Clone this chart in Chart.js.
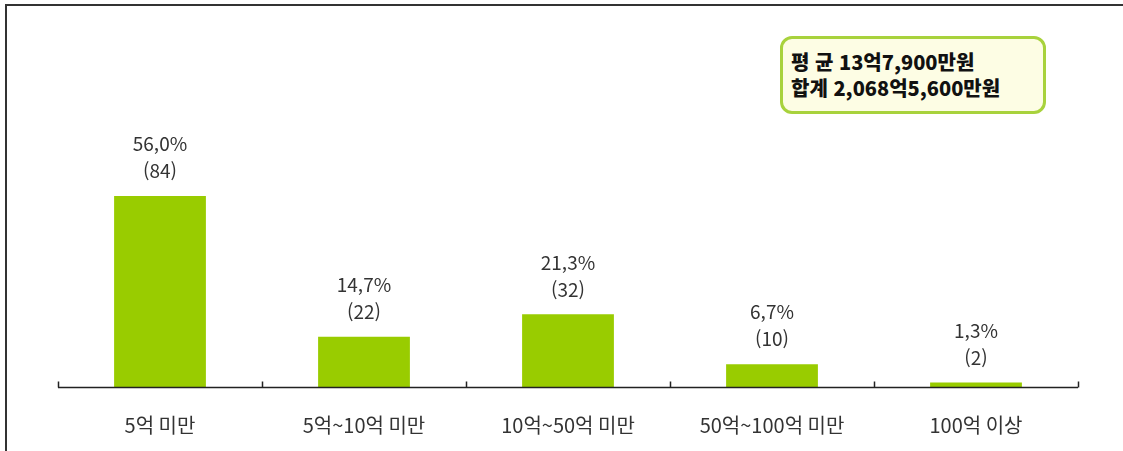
<!DOCTYPE html>
<html lang="ko">
<head>
<meta charset="utf-8">
<title>금액 구간별 분포</title>
<script src="https://cdn.jsdelivr.net/npm/chart.js@4.4.0/dist/chart.umd.min.js"></script>
<style>
  html, body { margin: 0; padding: 0; background: #fff; }
  #wrap { position: relative; width: 1123px; height: 451px; }
  #chart { position: absolute; left: 0; top: 0; }
  /* summary box, top right */
  #summary {
    position: absolute; left: 780px; top: 36px; width: 266px; height: 78px;
    box-sizing: border-box; border: 3px solid #a8d23c; border-radius: 12px;
    background: #fdfde4; padding: 10px 0 0 8px;
    font-family: "Noto Sans CJK KR", sans-serif; font-weight: 900; font-size: 20px;
    line-height: 26px; color: #111; letter-spacing: 0; white-space: nowrap;
  }
</style>
</head>
<body>
<div id="wrap">
  <canvas id="chart" width="1123" height="451"></canvas>
  <div id="summary">평 균 13억7,900만원<br>합계 2,068억5,600만원</div>
</div>
<script>
// categories and values
const categories = ['5억 미만', '5억~10억 미만', '10억~50억 미만', '50억~100억 미만', '100억 이상'];
const percents = [56.0, 14.7, 21.3, 6.7, 1.3];
const counts = [84, 22, 32, 10, 2];
const percentLabels = ['56,0%', '14,7%', '21,3%', '6,7%', '1,3%'];

const FONT = '"Noto Sans CJK KR", "Noto Sans", sans-serif';

// frame (top + left only), baseline with upward ticks, and value labels
const decorations = {
  id: 'decorations',
  afterDraw(chart) {
    const { ctx, chartArea, scales } = chart;
    const x = scales.x;
    const half = (x.getPixelForValue(1) - x.getPixelForValue(0)) / 2;
    ctx.save();
    ctx.strokeStyle = '#333';
    ctx.lineWidth = 2;
    ctx.beginPath();
    ctx.moveTo(6, chart.height);
    ctx.lineTo(6, 5);
    ctx.lineTo(chart.width, 5);
    ctx.stroke();

    const yb = Math.round(chartArea.bottom) + 0.5;
    ctx.strokeStyle = '#222';
    ctx.lineWidth = 1.5;
    ctx.beginPath();
    ctx.moveTo(chartArea.left, yb);
    ctx.lineTo(chartArea.right, yb);
    for (let i = 0; i <= categories.length; i++) {
      const px = Math.round(x.getPixelForValue(0) - half + i * half * 2) + 0.5;
      ctx.moveTo(px, yb);
      ctx.lineTo(px, yb - 6);
    }
    ctx.stroke();

    ctx.fillStyle = '#333';
    ctx.font = '19px ' + FONT;
    ctx.textAlign = 'center';
    ctx.textBaseline = 'middle';
    chart.getDatasetMeta(0).data.forEach((bar, i) => {
      ctx.fillText(percentLabels[i], bar.x, bar.y - 52);
      ctx.fillText('(' + counts[i] + ')', bar.x, bar.y - 25);
    });
    ctx.restore();
  }
};

new Chart(document.getElementById('chart'), {
  type: 'bar',
  data: {
    labels: categories,
    datasets: [{
      data: percents,
      backgroundColor: '#99cc00',
      categoryPercentage: 1,
      barPercentage: 0.45
    }]
  },
  options: {
    responsive: false,
    animation: false,
    layout: { padding: { left: 58, right: 45, top: 46, bottom: 14 } },
    plugins: { legend: { display: false }, tooltip: { enabled: false } },
    scales: {
      x: {
        grid: { display: false, drawTicks: false },
        border: { display: false },
        ticks: { color: '#333', font: { family: FONT, size: 20 }, padding: 26 },
        afterFit(scale) { scale.height = 50; }
      },
      y: {
        display: false,
        min: 0,
        max: 100
      }
    }
  },
  plugins: [decorations]
});
</script>
</body>
</html>
